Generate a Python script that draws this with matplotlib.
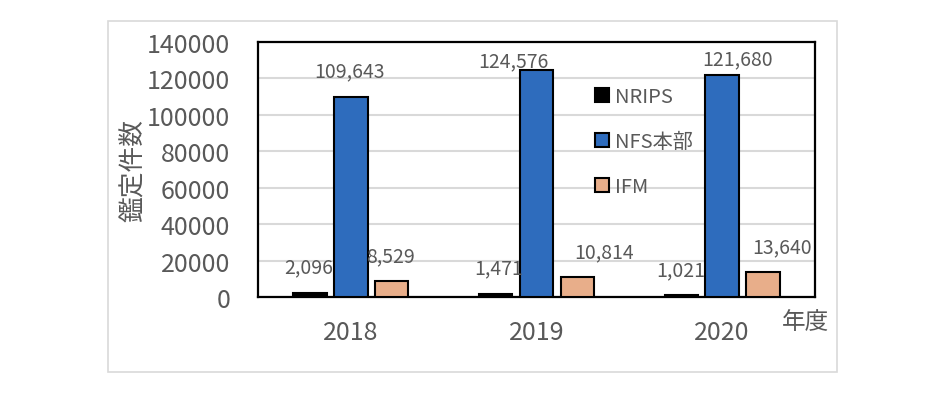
import numpy as np
import matplotlib
matplotlib.use("Agg")
from matplotlib import pyplot as plt
from matplotlib.patches import Rectangle, Patch

plt.rcParams["font.family"] = ["Noto Sans CJK JP", "DejaVu Sans"]

years = ["2018", "2019", "2020"]
series = ["NRIPS", "NFS本部", "IFM"]
nrips = [2096, 1471, 1021]
nfs = [109643, 124576, 121680]
ifm = [8529, 10814, 13640]
values = [nrips, nfs, ifm]
colors = ["#000000", "#2E6CBD", "#E8AE8A"]
# label offsets in pixels (dx, dy) from bar top, per series per year
label_offsets = [
    [(-1, 26), (3, 27), (-1, 25)],
    [(-1, 26), (-23, 9), (15, 17)],
    [(-1, 26), (27, 26), (19, 25)],
]

grey = "#595959"

fig = plt.figure(figsize=(9.46, 4.02), dpi=100)
fig.patches.append(Rectangle((108 / 946, 1 - 373 / 402), (837 - 108) / 946, (373 - 22) / 402,
                             transform=fig.transFigure, fill=False, edgecolor="#D9D9D9", lw=1.2))
ax = fig.add_axes([258 / 946, 1 - 298 / 402, (815 - 258) / 946, (298 - 43) / 402])

x = np.arange(len(years))
width = 0.18
step = 0.22
for i, (name, vals, col) in enumerate(zip(series, values, colors)):
    pos = x + (i - 1) * step
    bars = ax.bar(pos, vals, width, color=col, edgecolor="black", linewidth=1.5, label=name, zorder=3)
    for j, b in enumerate(bars):
        dx, dy = label_offsets[i][j]
        ax.annotate("{:,}".format(vals[j]), (b.get_x() + b.get_width() / 2, b.get_height()),
                    xytext=(dx, dy), textcoords="offset pixels", ha="center", va="center",
                    fontsize=14, color=grey, zorder=4)

ax.set_xlim(-0.5, 2.5)
ax.set_ylim(0, 140000)
ax.set_yticks(np.arange(0, 140001, 20000))
ax.set_yticklabels([str(v) for v in range(0, 140001, 20000)])
ax.set_xticks(x)
ax.set_xticklabels(years)
ax.tick_params(axis="both", length=0, labelsize=18, labelcolor=grey)
ax.tick_params(axis="y", pad=20)
ax.tick_params(axis="x", pad=16)
ax.grid(axis="y", color="#D9D9D9", lw=1.5, zorder=0)
for s in ax.spines.values():
    s.set_linewidth(1.6)
    s.set_color("black")

ax.set_ylabel("鑑定件数", fontsize=18.5, color=grey, labelpad=0)

handles = [Patch(facecolor=c, edgecolor="black", linewidth=1.5) for c in colors]
leg = ax.legend(handles, series, loc="upper left", bbox_to_anchor=(0.59, 0.86), frameon=False,
                fontsize=14.5, handlelength=0.7, handleheight=0.7, handletextpad=0.3,
                labelspacing=1.2, borderaxespad=0)
for t in leg.get_texts():
    t.set_color(grey)

fig.text(805 / 946, 1 - 323 / 402, "年度", fontsize=17, color=grey, ha="center", va="center")

fig.savefig("out.png", dpi=100)
